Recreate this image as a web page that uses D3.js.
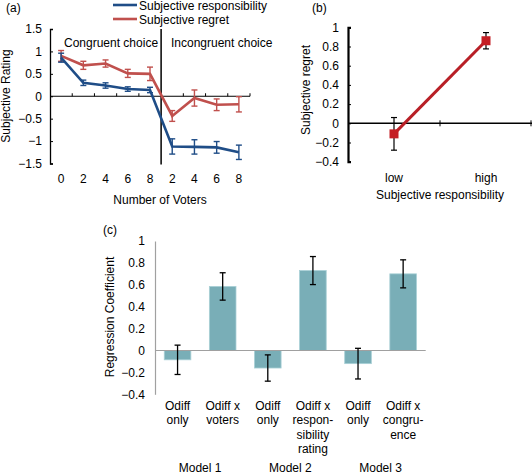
<!DOCTYPE html>
<html><head><meta charset="utf-8">
<script src="https://cdn.jsdelivr.net/npm/d3@7"></script>
<style>
html,body{margin:0;padding:0;background:#fff;}
svg text{font-family:"Liberation Sans",Arial,sans-serif;font-size:12px;fill:#000;}
</style></head>
<body>
<svg id="chart" width="532" height="476"></svg>
<script>
// ---------- Data ----------
const votersLabels = ["0","2","4","6","8","2","4","6","8"];
const responsibility = [0.86,0.30,0.24,0.16,0.14,-1.12,-1.13,-1.14,-1.25];
const responsibilityErr = [0.10,0.06,0.06,0.05,0.06,0.17,0.16,0.13,0.16];
const regret = [0.90,0.69,0.73,0.51,0.50,-0.44,-0.04,-0.19,-0.18];
const regretErr = [0.12,0.09,0.08,0.09,0.15,0.12,0.18,0.13,0.17];
const yTicksA = [-1.5,-1,-0.5,0,0.5,1,1.5];

const respLevels = ["low","high"];
const regretByResp = [-0.11,0.86];
const regretByRespErr = [0.17,0.085];
const yTicksB = [-0.4,-0.2,0,0.2,0.4,0.6,0.8,1];

const coefLabels = [["Odiff","only"],["Odiff x","voters"],["Odiff","only"],["Odiff x","respon-","sibility","rating"],["Odiff","only"],["Odiff x","congru-","ence"]];
const coefValues = [-0.085,0.585,-0.16,0.73,-0.12,0.70];
const coefErr = [0.134,0.125,0.12,0.128,0.14,0.128];
const modelLabels = ["Model 1","Model 2","Model 3"];
const yTicksC = [-0.4,-0.2,0,0.2,0.4,0.6,0.8,1];

const fmt = v => (v<0 ? "\u2212" : "") + String(Math.abs(v));
const svg = d3.select("#chart");

// ---------- Panel (a) ----------
const blue = "#1f4d87", red = "#c0504d";
const xA = d3.scaleBand().domain(d3.range(votersLabels.length)).range([50,250]);
const yA = d3.scaleLinear().domain([-1.5,1.5]).range([163.5,29]);
const gA = svg.append("g");
const axA = gA.append("g").attr("transform","translate(50,0)")
  .call(d3.axisLeft(yA).tickValues(yTicksA).tickSize(-3).tickPadding(8).tickFormat(fmt));
axA.select(".domain").attr("stroke","#000").attr("stroke-width",1.3);
axA.selectAll(".tick line").attr("stroke","#000");
axA.selectAll("text").style("font-size","12px").attr("font-family",null);
gA.append("line").attr("x1",50).attr("x2",250).attr("y1",yA(0)).attr("y2",yA(0)).attr("stroke","#000").attr("stroke-width",1);
gA.selectAll(".xtickA").data(d3.range(1,votersLabels.length+1).filter(i=>i!==5)).join("line")
  .attr("x1",i=>xA(0)+i*xA.step()).attr("x2",i=>xA(0)+i*xA.step())
  .attr("y1",yA(0)).attr("y2",yA(0)-3).attr("stroke","#000");
gA.selectAll(".xlabA").data(votersLabels).join("text")
  .attr("x",(d,i)=>xA(i)+xA.bandwidth()/2).attr("y",182.5).attr("text-anchor","middle").text(d=>d);
gA.append("text").attr("x",160).attr("y",204).attr("text-anchor","middle").text("Number of Voters");
gA.append("text").attr("transform","translate(10,96) rotate(-90)").attr("text-anchor","middle").text("Subjective Rating");
const divX = xA(0)+5*xA.step();
gA.append("line").attr("x1",divX).attr("x2",divX).attr("y1",yA(1.5)).attr("y2",yA(-1.5)+1).attr("stroke","#000").attr("stroke-width",1.5);
gA.append("text").attr("x",64).attr("y",46.5).text("Congruent choice");
gA.append("text").attr("x",171).attr("y",46.5).text("Incongruent choice");
gA.append("text").attr("x",6).attr("y",12).text("(a)");

function series(vals, errs, color){
  const cx = i => xA(i)+xA.bandwidth()/2;
  gA.append("path").datum(vals)
    .attr("d", d3.line().x((d,i)=>cx(i)).y(d=>yA(d)))
    .attr("fill","none").attr("stroke",color).attr("stroke-width",2.6);
  const eb = gA.append("g").attr("stroke",color).attr("stroke-width",1.4);
  vals.forEach((v,i)=>{
    const e = errs[i];
    eb.append("line").attr("x1",cx(i)).attr("x2",cx(i)).attr("y1",yA(v+e)).attr("y2",yA(v-e));
    eb.append("line").attr("x1",cx(i)-3).attr("x2",cx(i)+3).attr("y1",yA(v+e)).attr("y2",yA(v+e));
    eb.append("line").attr("x1",cx(i)-3).attr("x2",cx(i)+3).attr("y1",yA(v-e)).attr("y2",yA(v-e));
  });
}
series(regret, regretErr, red);
series(responsibility, responsibilityErr, blue);
const legend = [["Subjective responsibility",blue],["Subjective regret",red]];
legend.forEach((l,i)=>{
  gA.append("line").attr("x1",113).attr("x2",137).attr("y1",5+i*14).attr("y2",5+i*14).attr("stroke",l[1]).attr("stroke-width",2.6);
  gA.append("text").attr("x",139).attr("y",9.5+i*14).text(l[0]);
});

// ---------- Panel (b) ----------
const redB = "#c41e24";
const xB = d3.scaleBand().domain(respLevels).range([348,532]);
const yB = d3.scaleLinear().domain([-0.4,1]).range([161.7,27.3]);
const gB = svg.append("g");
const axB = gB.append("g").attr("transform","translate(348,0)")
  .call(d3.axisLeft(yB).tickValues(yTicksB).tickSize(-3).tickPadding(9).tickFormat(fmt));
axB.select(".domain").attr("stroke","#000").attr("stroke-width",2.2);
axB.selectAll(".tick line").attr("stroke","#000");
axB.selectAll("text").style("font-size","12px").attr("font-family",null);
gB.append("line").attr("x1",348).attr("x2",532).attr("y1",yB(0)).attr("y2",yB(0)).attr("stroke","#000").attr("stroke-width",1.5);
gB.selectAll(".xtickB").data([1,2]).join("line")
  .attr("x1",i=>348+i*xB.step()-(i===2?1:0)).attr("x2",i=>348+i*xB.step()-(i===2?1:0))
  .attr("y1",yB(0)-3).attr("y2",yB(0)+3).attr("stroke","#000");
gB.selectAll(".xlabB").data(respLevels).join("text")
  .attr("x",d=>xB(d)+xB.bandwidth()/2).attr("y",182).attr("text-anchor","middle").text(d=>d);
gB.append("text").attr("x",440).attr("y",199).attr("text-anchor","middle").text("Subjective responsibility");
gB.append("text").attr("transform","translate(310,90) rotate(-90)").attr("text-anchor","middle").text("Subjective regret");
gB.append("text").attr("x",312).attr("y",12).text("(b)");
const cxB = d => xB(d)+xB.bandwidth()/2;
const ebB = gB.append("g").attr("stroke","#000").attr("stroke-width",1.2);
respLevels.forEach((d,i)=>{
  const v = regretByResp[i], e = regretByRespErr[i];
  ebB.append("line").attr("x1",cxB(d)).attr("x2",cxB(d)).attr("y1",yB(v+e)).attr("y2",yB(v-e));
  ebB.append("line").attr("x1",cxB(d)-3).attr("x2",cxB(d)+3).attr("y1",yB(v+e)).attr("y2",yB(v+e));
  ebB.append("line").attr("x1",cxB(d)-3).attr("x2",cxB(d)+3).attr("y1",yB(v-e)).attr("y2",yB(v-e));
});
gB.append("path").datum(regretByResp)
  .attr("d", d3.line().x((d,i)=>cxB(respLevels[i])).y(d=>yB(d)))
  .attr("fill","none").attr("stroke","#b81f26").attr("stroke-width",3);
gB.selectAll(".mk").data(regretByResp).join("rect")
  .attr("x",(d,i)=>cxB(respLevels[i])-4.5).attr("y",d=>yB(d)-4.5).attr("width",9).attr("height",9).attr("fill",redB);

// ---------- Panel (c) ----------
const gray = "#a0a0a0", teal = "#79aeb7";
const xC = d3.scaleBand().domain(d3.range(coefValues.length)).range([155,425.7]).paddingInner(0.41).paddingOuter(0.205);
const yC = d3.scaleLinear().domain([-0.4,1]).range([394.3,241]);
const gC = svg.append("g");
const axC = gC.append("g").attr("transform","translate(155,0)")
  .call(d3.axisLeft(yC).tickValues(yTicksC).tickSize(0).tickPadding(10).tickFormat(fmt));
axC.select(".domain").attr("stroke",gray).attr("stroke-width",1.2);
axC.selectAll("text").style("font-size","12px").attr("font-family",null);
gC.selectAll(".bar").data(coefValues).join("rect")
  .attr("x",(d,i)=>xC(i)).attr("width",xC.bandwidth())
  .attr("y",d=>yC(Math.max(0,d))).attr("height",d=>Math.abs(yC(d)-yC(0)))
  .attr("fill",teal).attr("stroke","#a9d0d6").attr("stroke-width",0.8);
gC.append("line").attr("x1",155).attr("x2",425.7).attr("y1",yC(0)).attr("y2",yC(0)).attr("stroke",gray).attr("stroke-width",1.2);
const ebC = gC.append("g").attr("stroke","#000").attr("stroke-width",1.3);
coefValues.forEach((v,i)=>{
  const c = xC(i)+xC.bandwidth()/2, e = coefErr[i];
  ebC.append("line").attr("x1",c).attr("x2",c).attr("y1",yC(v+e)).attr("y2",yC(v-e));
  ebC.append("line").attr("x1",c-3).attr("x2",c+3).attr("y1",yC(v+e)).attr("y2",yC(v+e));
  ebC.append("line").attr("x1",c-3).attr("x2",c+3).attr("y1",yC(v-e)).attr("y2",yC(v-e));
});
coefLabels.forEach((lines,i)=>{
  const c = xC(i)+xC.bandwidth()/2;
  const t = gC.append("text").attr("text-anchor","middle");
  lines.forEach((ln,j)=>t.append("tspan").attr("x",c).attr("y",409.5+j*14.6).text(ln));
});
modelLabels.forEach((m,k)=>{
  const c = (xC(2*k)+xC(2*k+1)+xC.bandwidth())/2;
  gC.append("text").attr("x",c).attr("y",472).attr("text-anchor","middle").text(m);
});
gC.append("text").attr("transform","translate(114,317) rotate(-90)").attr("text-anchor","middle").text("Regression Coefficient");
gC.append("text").attr("x",103).attr("y",234).text("(c)");
</script>
</body></html>
